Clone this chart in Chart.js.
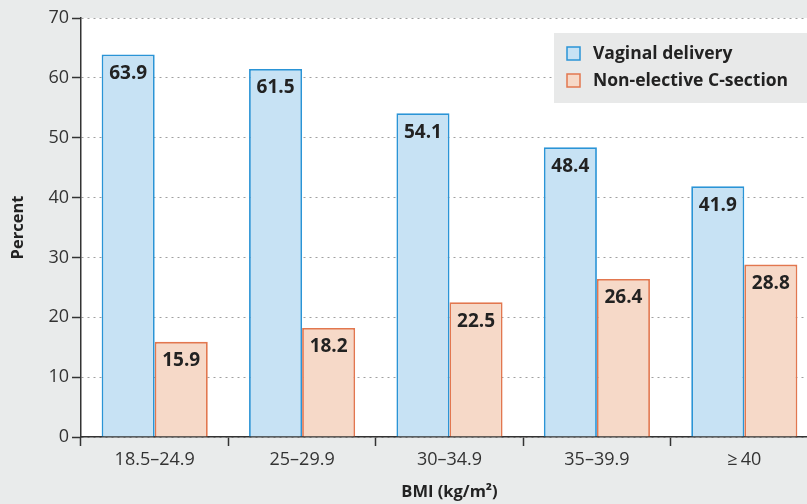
<!DOCTYPE html>
<html>
<head>
<meta charset="utf-8">
<script src="https://cdn.jsdelivr.net/npm/chart.js@4/dist/chart.umd.min.js"></script>
<style>
  html, body { margin: 0; padding: 0; background: #e9ebeb; overflow: hidden; }
  canvas { display: block; }
</style>
</head>
<body>
<canvas id="myChart" width="818" height="504"></canvas>
<script>
const categories = ["18.5\u201324.9", "25\u201329.9", "30\u201334.9", "35\u201339.9", "\u2265\u200940"];
const vaginal = [63.9, 61.5, 54.1, 48.4, 41.9];
const csection = [15.9, 18.2, 22.5, 26.4, 28.8];
const seriesNames = ["Vaginal delivery", "Non-elective C-section"];
const yTicks = [0, 10, 20, 30, 40, 50, 60, 70];

const FONT = "'Open Sans', 'Noto Sans', sans-serif";

// white plot area + legend box + value labels
const extras = {
  id: "extras",
  beforeDraw: (chart) => {
    const { ctx, chartArea: a } = chart;
    ctx.save();
    ctx.fillStyle = "#ffffff";
    ctx.fillRect(a.left, a.top, a.right - a.left, a.bottom - a.top);
    ctx.restore();
  },
  afterDatasetsDraw: (chart) => {
    const { ctx } = chart;
    ctx.save();
    ctx.font = "bold 19px " + FONT;
    ctx.fillStyle = "#222";
    ctx.textAlign = "center";
    ctx.textBaseline = "middle";
    chart.data.datasets.forEach((ds, i) => {
      chart.getDatasetMeta(i).data.forEach((bar, j) => {
        ctx.fillText(ds.data[j].toFixed(1), bar.x, bar.y + 19);
      });
    });

    // legend
    ctx.fillStyle = "#e8e9e9";
    ctx.fillRect(554, 33, 300, 70);
    ctx.font = "bold 17.5px " + FONT;
    ctx.textAlign = "left";
    chart.data.datasets.forEach((ds, i) => {
      const y = 54 + i * 27;
      ctx.fillStyle = ds.backgroundColor;
      ctx.fillRect(567, y - 7, 13, 13);
      ctx.strokeStyle = ds.borderColor;
      ctx.lineWidth = 1.5;
      ctx.strokeRect(567, y - 7, 13, 13);
      ctx.fillStyle = "#222";
      ctx.fillText(ds.label, 593, y);
    });
    ctx.restore();
  },
};

const ctx = document.getElementById("myChart").getContext("2d");
const myChart = new Chart(ctx, {
  type: "bar",
  data: {
    labels: categories,
    datasets: [
      {
        label: seriesNames[0],
        data: vaginal,
        backgroundColor: "#c7e2f4",
        borderColor: "#2a94d6",
        borderWidth: 1.8,
        borderSkipped: "bottom",
      },
      {
        label: seriesNames[1],
        data: csection,
        backgroundColor: "#f6d9c8",
        borderColor: "#e2774f",
        borderWidth: 1.8,
        borderSkipped: "bottom",
      },
    ],
  },
  options: {
    responsive: false,
    animation: false,
    layout: { padding: { top: 18, left: 0, right: 0, bottom: 0 } },
    datasets: {
      bar: { categoryPercentage: 0.72, barPercentage: 1.0 },
    },
    plugins: {
      legend: { display: false },
      tooltip: { enabled: false },
    },
    scales: {
      x: {
        afterFit: (scale) => { scale.height = 67; },
        grid: {
          drawOnChartArea: false,
          tickLength: 9,
          tickColor: "#333",
          tickWidth: 1.5,
          offset: true,
        },
        border: { color: "#333", width: 1.5 },
        ticks: {
          color: "#333",
          font: { family: FONT, size: 18 },
          padding: 3,
        },
        title: {
          display: true,
          text: "BMI (kg/m\u00b2)",
          color: "#222",
          font: { family: FONT, size: 16.5, weight: "bold" },
          padding: { top: 0, bottom: 2 },
        },
      },
      y: {
        min: 0,
        max: 70,
        afterFit: (scale) => { scale.width = 81; },
        afterBuildTicks: (scale) => {
          scale.ticks = yTicks.map((v) => ({ value: v }));
        },
        grid: {
          color: "#a0a0a0",
          lineWidth: 1,
          tickLength: 9,
          tickColor: "#333",
          tickWidth: 1.5,
          tickBorderDash: [],
        },
        border: { color: "#333", width: 1.5, dash: [2, 4] },
        ticks: {
          color: "#333",
          font: { family: FONT, size: 18 },
          padding: 3,
        },
        title: {
          display: true,
          text: "Percent",
          color: "#222",
          font: { family: FONT, size: 16.5, weight: "bold" },
          padding: { top: 8, bottom: 0 },
        },
      },
    },
  },
  plugins: [extras],
});
</script>
</body>
</html>
